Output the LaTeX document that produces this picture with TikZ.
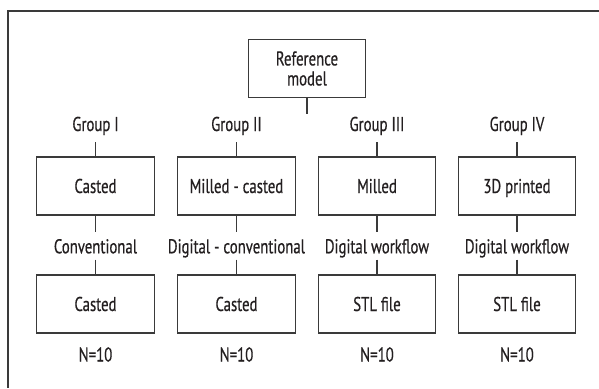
\documentclass[tikz,border=0pt]{standalone}
\usepackage{fontspec}
\setmainfont[FakeStretch=0.74,FakeBold=0.5]{PT Sans}
\definecolor{ink}{HTML}{231F20}
\definecolor{rulecol}{HTML}{3A3A3A}

\begin{document}
\begin{tikzpicture}[x=1pt,y=-1pt,
  every node/.style={font=\fontsize{20}{20}\selectfont, text=ink},
  framed/.style={draw=rulecol, line width=1.1pt, minimum width=117.5pt,
    minimum height=58pt, inner sep=0pt},
  box/.style={framed, text height=14pt, text depth=0pt},
  refbox/.style={framed, align=center},
  grouplabel/.style={inner sep=0pt, text height=14pt, text depth=11pt, anchor=base},
  steplabel/.style={inner sep=0pt, text height=21pt, text depth=6pt, anchor=base},
  countlabel/.style={inner sep=0pt, anchor=base},
  link/.style={draw=rulecol, line width=1.1pt}
]
\useasboundingbox (0,0) rectangle (599,388);

% open frame: top and left rules
\draw[rulecol, line width=1.1pt] (599,11) -- (8,11) -- (8,388);

% reference model
\node[refbox] (ref) at (307,68.5) {Reference\\model};
\coordinate (split) at (307,114);
\draw[link] (ref.south) -- (split);

% the four groups
\foreach \i/\x/\grp/\top/\step/\bot in {
  1/95.5/Group I/Casted/Conventional/Casted,
  2/236.5/Group II/Milled - casted/Digital - conventional/Casted,
  3/377/Group III/Milled/Digital workflow/STL file,
  4/517/Group IV/3D printed/Digital workflow/STL file}{
  \node[grouplabel] (g\i) at (\x,131) {\grp};
  \node[box] (t\i) at (\x,186) {\top};
  \node[steplabel] (m\i) at (\x,253.3) {\step};
  \node[box] (b\i) at (\x,304) {\bot};
  \node[countlabel] (n\i) at (\x,361.5) {N=10};
  \draw[link] (g\i.south) -- (t\i.north);
  \draw[link] (t\i.south) -- (m\i.north);
  \draw[link] (m\i.south) -- (b\i.north);
}
\end{tikzpicture}
\end{document}
